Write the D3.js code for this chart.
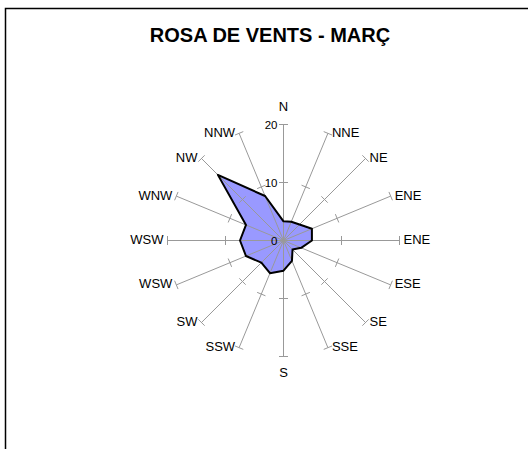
<!DOCTYPE html>
<html>
<head>
<meta charset="utf-8">
<script src="https://cdn.jsdelivr.net/npm/d3@7"></script>
<style>
  body { margin: 0; background: #fff; }
  text { font-family: "Liberation Sans", Arial, sans-serif; fill: #000; }
</style>
</head>
<body>
<div id="chart"></div>
<script>
// wind directions, clockwise from north (labels as in the original sheet)
const directions = ['N', 'NNE', 'NE', 'ENE', 'ENE', 'ESE', 'SE', 'SSE', 'S', 'SSW', 'SW', 'WSW', 'WSW', 'WNW', 'NW', 'NNW'];
// frequencies per direction
const frequencies = [3.3, 3.5, 3.9, 5.3, 4.9, 3.3, 2.2, 3.8, 5.2, 6.1, 5.4, 7.0, 7.5, 7.0, 16.0, 8.3];
const axisLabels = [0, 10, 20];
const tickMarks = [10, 20];
const chartTitle = 'ROSA DE VENTS - MARÇ';

class WindRoseD3 {

  constructor(containerEl, props) {
    this.containerEl = containerEl;
    this.props = props;
    const { width, height } = props;
    this.svg = d3.select(containerEl)
      .append('svg')
      .attr('width', width)
      .attr('height', height);
    this.draw();
  }

  draw = () => {
    const { svg, props: { width, height, cx, cy, radius } } = this;

    // chart frame (runs off the right and bottom of the picture)
    svg.append('rect')
      .attr('x', 5.5)
      .attr('y', 8.5)
      .attr('width', width + 20)
      .attr('height', height + 20)
      .attr('fill', 'none')
      .attr('stroke', '#000')
      .attr('stroke-width', 1.5);

    svg.append('text')
      .attr('x', 270)
      .attr('y', 42)
      .attr('text-anchor', 'middle')
      .style('font-size', '20px')
      .style('font-weight', 'bold')
      .text(chartTitle);

    const r = d3.scaleLinear().domain([0, 20]).range([0, radius]);
    const angle = d3.scaleLinear().domain([0, directions.length]).range([0, 2 * Math.PI]);
    const px = (i, v) => cx + r(v) * Math.sin(angle(i));
    const py = (i, v) => cy - r(v) * Math.cos(angle(i));

    const g = svg.append('g');

    const line = d3.lineRadial()
      .angle((d, i) => angle(i))
      .radius(d => r(d))
      .curve(d3.curveLinearClosed);

    g.append('path')
      .attr('transform', `translate(${cx},${cy})`)
      .attr('d', line(frequencies))
      .attr('fill', '#9999ff')
      .attr('stroke', 'none');

    // spokes
    g.selectAll('.spoke')
      .data(directions)
      .join('line')
      .attr('class', 'spoke')
      .attr('x1', cx)
      .attr('y1', cy)
      .attr('x2', (d, i) => px(i, 20))
      .attr('y2', (d, i) => py(i, 20))
      .attr('stroke', '#999')
      .attr('stroke-width', 1);

    // cross ticks on every spoke
    const ticks = directions.flatMap((d, i) => tickMarks.map(v => ({ i, v })));
    const tl = 4.5;
    g.selectAll('.tick')
      .data(ticks)
      .join('line')
      .attr('class', 'tick')
      .attr('x1', d => px(d.i, d.v) - tl * Math.cos(angle(d.i)))
      .attr('y1', d => py(d.i, d.v) - tl * Math.sin(angle(d.i)))
      .attr('x2', d => px(d.i, d.v) + tl * Math.cos(angle(d.i)))
      .attr('y2', d => py(d.i, d.v) + tl * Math.sin(angle(d.i)))
      .attr('stroke', '#999')
      .attr('stroke-width', 1);

    g.append('path')
      .attr('transform', `translate(${cx},${cy})`)
      .attr('d', line(frequencies))
      .attr('fill', 'none')
      .attr('stroke', '#000')
      .attr('stroke-width', 2)
      .attr('stroke-linejoin', 'round');

    // value axis labels on the north spoke
    g.selectAll('.axis-label')
      .data(axisLabels)
      .join('text')
      .attr('class', 'axis-label')
      .attr('x', cx - 6)
      .attr('y', d => cy - r(d))
      .attr('dy', '0.35em')
      .attr('text-anchor', 'end')
      .style('font-size', '11.5px')
      .text(d => d);

    // direction labels
    g.selectAll('.dir-label')
      .data(directions)
      .join('text')
      .attr('class', 'dir-label')
      .attr('x', (d, i) => {
        const s = Math.sin(angle(i));
        if (Math.abs(s) < 0.01) return px(i, 20);
        return px(i, 20) + (s > 0 ? 4 : -4);
      })
      .attr('y', (d, i) => {
        if (i === 0) return py(i, 20) - 18;
        if (i === 8) return py(i, 20) + 16;
        return py(i, 20) - 1;
      })
      .attr('dy', '0.35em')
      .attr('text-anchor', (d, i) => {
        const s = Math.sin(angle(i));
        if (Math.abs(s) < 0.01) return 'middle';
        return s > 0 ? 'start' : 'end';
      })
      .style('font-size', '13px')
      .text(d => d);
  }
}

new WindRoseD3(document.getElementById('chart'), {
  width: 528,
  height: 449,
  cx: 283.5,
  cy: 240.5,
  radius: 116
});
</script>
</body>
</html>
